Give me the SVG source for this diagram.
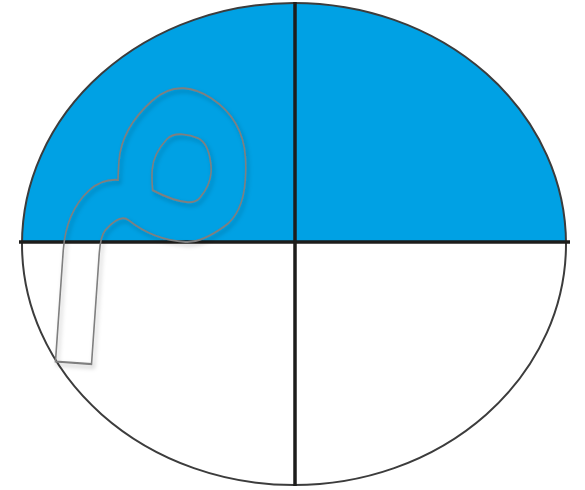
<svg xmlns="http://www.w3.org/2000/svg" width="585" height="490" viewBox="0 0 585 490">
<style>
.axis{stroke:#1d1d1b;stroke-width:3.5;fill:none}
.rim{stroke:#3c3c3c;stroke-width:2;fill:none}
.glyph{font-family:"DejaVu Sans",sans-serif;fill:none;stroke:#7f7f7f;stroke-width:1.6}
</style>
<defs>
<clipPath id="top"><rect x="0" y="0" width="585" height="242"/></clipPath>
<filter id="sh" x="-20%" y="-20%" width="140%" height="140%"><feDropShadow dx="2" dy="3" stdDeviation="2" flood-color="#000" flood-opacity="0.25"/></filter>
</defs>
<g id="circle">
<ellipse cx="294" cy="244" rx="272" ry="241" fill="#00a1e4" clip-path="url(#top)"/>
<ellipse class="rim" cx="294" cy="244" rx="272" ry="241"/>
</g>
<g id="connectors">
<line class="axis" x1="19" y1="242" x2="570" y2="242"/>
<line class="axis" x1="295" y1="2" x2="295" y2="486"/>
</g>
<g id="letter" filter="url(#sh)">
<text class="glyph" transform="translate(38,249) rotate(4) scale(1,1.25)" x="0" y="0" font-size="370" text-anchor="end" direction="rtl">م</text>
</g>
</svg>
